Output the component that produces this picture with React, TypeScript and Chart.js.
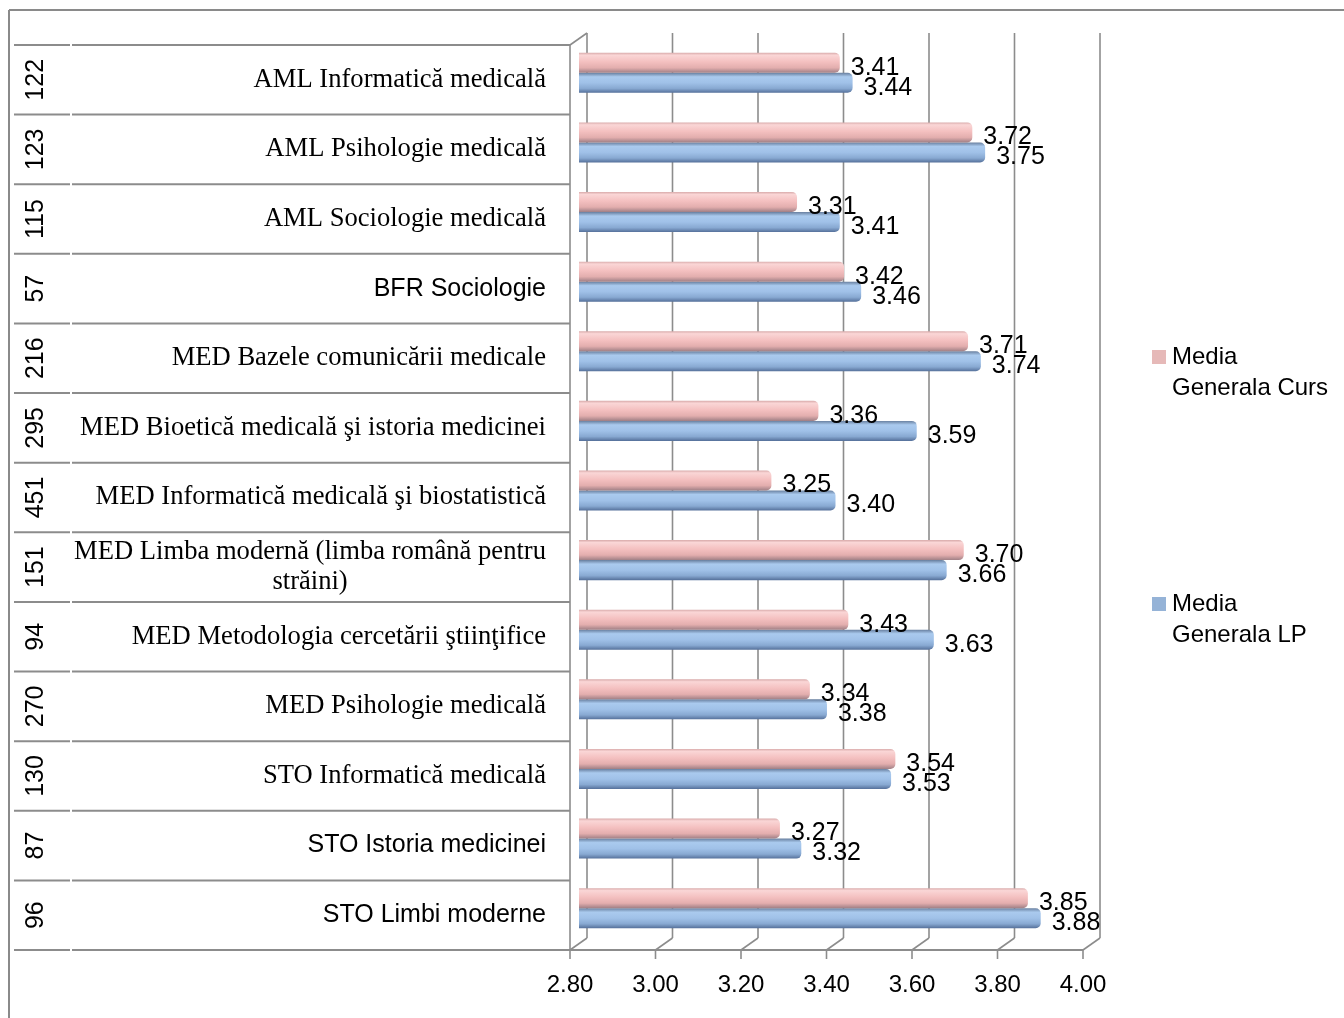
import { useEffect, useRef } from 'react';
import { Chart, registerables } from 'chart.js';

Chart.register(...registerables);

const categoryCodes = ['122', '123', '115', '57', '216', '295', '451', '151', '94', '270', '130', '87', '96'];
const categoryNames = [
  'AML Informatică medicală',
  'AML Psihologie medicală',
  'AML Sociologie medicală',
  'BFR Sociologie',
  'MED Bazele comunicării medicale',
  'MED Bioetică medicală şi istoria medicinei',
  'MED Informatică medicală şi biostatistică',
  'MED Limba modernă (limba română pentru străini)',
  'MED Metodologia cercetării ştiinţifice',
  'MED Psihologie medicală',
  'STO Informatică medicală',
  'STO Istoria medicinei',
  'STO Limbi moderne',
];
const seriesNames = ['Media Generala Curs', 'Media Generala LP'];
const mediaCurs = [3.41, 3.72, 3.31, 3.42, 3.71, 3.36, 3.25, 3.70, 3.43, 3.34, 3.54, 3.27, 3.85];
const mediaLP = [3.44, 3.75, 3.41, 3.46, 3.74, 3.59, 3.40, 3.66, 3.63, 3.38, 3.53, 3.32, 3.88];
const xMin = 2.8;
const xMax = 4.0;
const xStep = 0.2;

// styling constants
const CAT_PCT = 0.575;
const SANS = '"Liberation Sans", Arial, sans-serif';
const SERIF = '"Liberation Serif", "Times New Roman", serif';
const SANS_LABELS = new Set(['BFR Sociologie', 'STO Istoria medicinei', 'STO Limbi moderne']);
const WRAPS: Record<string, string[]> = {
  'MED Limba modernă (limba română pentru străini)': ['MED Limba modernă (limba română pentru', 'străini)'],
};
const PINK = '#E6B9B8';
const BLUE = '#95B3D7';
const LINE = '#8c8c8c';
// 3D offsets relative to chart area
const BDX = 8, BDY = -5, FDX = -9, FDY = 7;

function barFill(c: any, dsIndex: number) {
  const chart = c.chart;
  const area = chart.chartArea;
  const ys = chart.scales && chart.scales.y;
  const flat = dsIndex === 0 ? '#F2C0C0' : '#A6C4E8';
  if (!area || !ys || c.type !== 'data') return flat;
  const band = (area.bottom - area.top) / categoryCodes.length;
  const center = ys.getPixelForValue(c.dataIndex);
  const barH = (band * CAT_PCT) / 2;
  const top = center - barH + dsIndex * barH;
  const g = chart.ctx.createLinearGradient(0, top, 0, top + barH);
  if (dsIndex === 0) {
    g.addColorStop(0, '#d9abab');
    g.addColorStop(0.12, '#fad6d6');
    g.addColorStop(0.45, '#f4c0c0');
    g.addColorStop(0.75, '#e3aeae');
    g.addColorStop(1, '#9f7f85');
  } else {
    g.addColorStop(0, '#687f9f');
    g.addColorStop(0.2, '#aacaee');
    g.addColorStop(0.5, '#a0c1e8');
    g.addColorStop(0.78, '#88a9d2');
    g.addColorStop(1, '#55709a');
  }
  return g;
}

const decoPlugin = {
  id: 'deco',
  beforeDatasetsDraw(chart: any) {
    const { ctx, chartArea: a, scales } = chart;
    const xs = scales.x;
    const n = categoryCodes.length;
    const band = (a.bottom - a.top) / n;
    const backTop = a.top + BDY, backBot = a.bottom + BDY;
    const frontTop = a.top + FDY, frontBot = a.bottom + FDY;
    const line = (x1: number, y1: number, x2: number, y2: number) => {
      ctx.beginPath();
      ctx.moveTo(x1, y1);
      ctx.lineTo(x2, y2);
      ctx.stroke();
    };
    ctx.save();
    ctx.strokeStyle = LINE;
    ctx.lineWidth = 1.6;
    xs.ticks.forEach((t: any) => {
      const px = xs.getPixelForValue(t.value);
      line(px + BDX, backTop, px + BDX, backBot);
      line(px + BDX, backBot, px + FDX, frontBot);
      line(px + FDX, frontBot, px + FDX, frontBot + 9);
    });
    const x0 = xs.getPixelForValue(xMin);
    const x1 = xs.getPixelForValue(xMax);
    // left wall
    line(x0 + FDX, frontTop, x0 + FDX, frontBot);
    line(x0 + FDX, frontTop, x0 + BDX, backTop);
    // floor front edge + table lines
    ctx.lineWidth = 2;
    line(x0 + FDX, frontBot, x1 + FDX, frontBot);
    for (let k = 0; k <= n; k++) {
      const yy = frontTop + k * band;
      line(14, yy, 70, yy);
      line(72, yy, x0 + FDX, yy);
    }
    // outer chart border
    ctx.strokeStyle = '#8a8a8a';
    line(9, 10, 9, 1018);
    line(9, 10, 1344, 10);
    ctx.restore();
  },
  afterDraw(chart: any) {
    const { ctx, chartArea: a, scales } = chart;
    const xs = scales.x;
    const ys = scales.y;
    const n = categoryCodes.length;
    const band = (a.bottom - a.top) / n;
    ctx.save();
    ctx.fillStyle = '#000';
    // category table
    for (let i = 0; i < n; i++) {
      const cy = ys.getPixelForValue(i) + FDY;
      ctx.save();
      ctx.translate(36, cy);
      ctx.rotate(-Math.PI / 2);
      ctx.font = `25px ${SANS}`;
      ctx.textAlign = 'center';
      ctx.textBaseline = 'middle';
      ctx.fillText(categoryCodes[i], 0, 0);
      ctx.restore();

      const name = categoryNames[i];
      ctx.font = SANS_LABELS.has(name) ? `25px ${SANS}` : `26.6px ${SERIF}`;
      ctx.textBaseline = 'middle';
      const lines = WRAPS[name];
      if (lines) {
        const w = Math.max(...lines.map((l) => ctx.measureText(l).width));
        ctx.textAlign = 'center';
        const cx = 546 - w / 2;
        ctx.fillText(lines[0], cx, cy - 15);
        ctx.fillText(lines[1], cx, cy + 15);
      } else {
        ctx.textAlign = 'right';
        ctx.fillText(name, 546, cy);
      }
    }
    // value labels
    ctx.font = `25px ${SANS}`;
    ctx.textAlign = 'left';
    ctx.textBaseline = 'middle';
    const barH = (band * CAT_PCT) / 2;
    [mediaCurs, mediaLP].forEach((vals, d) => {
      vals.forEach((v, i) => {
        const center = ys.getPixelForValue(i);
        const by = center - barH + d * barH + barH / 2;
        ctx.fillText(v.toFixed(2), xs.getPixelForValue(v) + 11, by + 5);
      });
    });
    // legend
    ctx.font = `24px ${SANS}`;
    const legend = [
      { color: PINK, lines: ['Media', 'Generala Curs'], y: 357 },
      { color: BLUE, lines: ['Media', 'Generala LP'], y: 604 },
    ];
    legend.forEach((it) => {
      ctx.fillStyle = it.color;
      ctx.fillRect(1152, it.y - 7, 14, 14);
      ctx.fillStyle = '#000';
      ctx.fillText(it.lines[0], 1172, it.y);
      ctx.fillText(it.lines[1], 1172, it.y + 31);
    });
    ctx.restore();
  },
};

export default function App() {
  const ref = useRef<HTMLCanvasElement | null>(null);
  useEffect(() => {
    if (!ref.current) return;
    const chart = new Chart(ref.current, {
      type: 'bar',
      data: {
        labels: categoryNames,
        datasets: [
          {
            label: seriesNames[0],
            data: mediaCurs,
            backgroundColor: (c: any) => barFill(c, 0),
            borderWidth: 0,
            borderRadius: 5,
            borderSkipped: 'start',
            categoryPercentage: CAT_PCT,
            barPercentage: 1,
          },
          {
            label: seriesNames[1],
            data: mediaLP,
            backgroundColor: (c: any) => barFill(c, 1),
            borderWidth: 0,
            borderRadius: 5,
            borderSkipped: 'start',
            categoryPercentage: CAT_PCT,
            barPercentage: 1,
          },
        ],
      },
      options: {
        indexAxis: 'y',
        responsive: false,
        animation: false,
        layout: { padding: { left: 579, right: 252, top: 38, bottom: 0 } },
        scales: {
          x: {
            min: xMin,
            max: xMax,
            ticks: {
              stepSize: xStep,
              callback: (v: any) => Number(v).toFixed(2),
              font: { family: SANS, size: 24 },
              color: '#000',
              padding: 28,
              labelOffset: -9,
              maxRotation: 0,
              autoSkip: false,
            },
            grid: { display: false, drawTicks: false },
            border: { display: false },
            afterFit: (s: any) => {
              s.height = 75;
            },
          },
          y: { display: false },
        },
        plugins: { legend: { display: false }, tooltip: { enabled: false } },
      },
      plugins: [decoPlugin],
    } as any);
    return () => chart.destroy();
  }, []);
  return (
    <canvas
      ref={ref}
      width={1344}
      height={1018}
      style={{ position: 'fixed', left: 0, top: 0, width: 1344, height: 1018, background: '#fff' }}
    />
  );
}
